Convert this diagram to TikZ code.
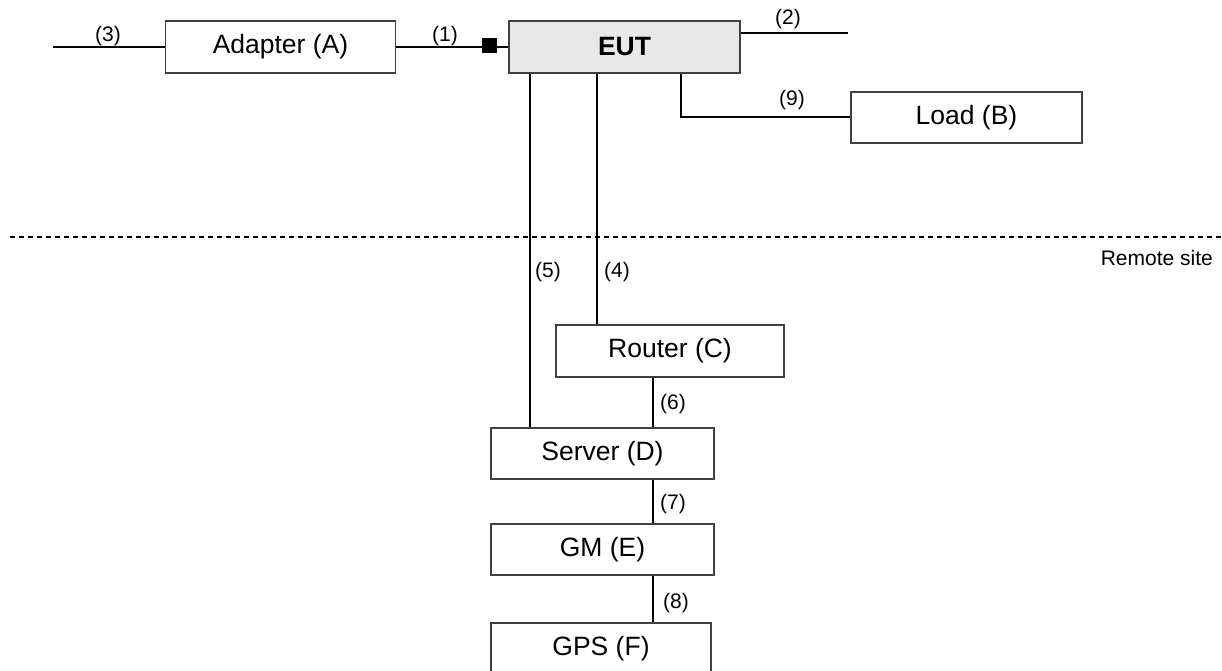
\documentclass[tikz,border=0pt]{standalone}
\usepackage{fontspec}
\setmainfont{Liberation Sans}
\begin{document}
\begin{tikzpicture}[x=1pt,y=-1pt,
  box/.style={draw=black!75, line width=1.2pt, inner sep=0pt, minimum height=52pt, font=\fontsize{26.5}{31}\selectfont},
  wire/.style={line width=2pt, black},
  lbl/.style={inner sep=0pt, font=\fontsize{21}{25}\selectfont}]
\useasboundingbox (0,0) rectangle (1222,671);
\clip (0,0) rectangle (1222,671);
% boxes
\node[box, minimum width=230pt] (adapter) at (280.5,47) {Adapter (A)};
\node[box, minimum width=231pt, fill=black!9, font=\fontsize{26.5}{31}\selectfont\bfseries] (eut) at (624.5,47) {EUT};
\node[box, minimum width=231pt, minimum height=51pt] (load) at (966.5,117.5) {Load (B)};
\node[box, minimum width=228pt] (router) at (670,351) {Router (C)};
\node[box, minimum width=223pt, minimum height=51pt] (server) at (602.5,453.5) {Server (D)};
\node[box, minimum width=223pt, minimum height=51pt] (gm) at (602.5,549.5) {GM (E)};
\node[box, minimum width=220pt] (gps) at (601,649) {GPS (F)};
% helper coordinates
\coordinate (c3) at (53,47);
\coordinate (c2) at (848,33);
\coordinate (k9) at (681,117.5);
\coordinate (x5) at (530,0);
\coordinate (x4) at (597,0);
\coordinate (x6) at (653,0);
\coordinate (dl) at (10,237);
\coordinate (dr) at (1222,237);
% connectors
\draw[wire] (c3) -- (adapter.west);
\draw[wire] (adapter.east) -- (eut.west);
\node[fill=black, inner sep=0pt, minimum size=15pt] (sq) at (489,45.5) {};
\draw[wire] (eut.east |- c2) -- (c2);
\draw[wire] (eut.south -| k9) -- (k9) -- (load.west);
\draw[wire] (eut.south -| x5) -- (server.north -| x5);
\draw[wire] (eut.south -| x4) -- (router.north -| x4);
\draw[wire] (router.south -| x6) -- (server.north -| x6);
\draw[wire] (server.south -| x6) -- (gm.north -| x6);
\draw[wire] (gm.south -| x6) -- (gps.north -| x6);
\draw[line width=1.3pt, dash pattern=on 5pt off 4pt] (dl) -- (dr);
% labels
\node[lbl] (l3) at (108,36) {(3)};
\node[lbl] (l1) at (445,36) {(1)};
\node[lbl] (l2) at (788,19) {(2)};
\node[lbl] (l9) at (792,100) {(9)};
\node[lbl] (l5) at (548,272) {(5)};
\node[lbl] (l4) at (617,272) {(4)};
\node[lbl] (l6) at (673,404) {(6)};
\node[lbl] (l7) at (673,504) {(7)};
\node[lbl] (l8) at (676,603) {(8)};
\node[lbl, anchor=base east] (rs) at (1213,265) {Remote site};
\end{tikzpicture}
\end{document}
